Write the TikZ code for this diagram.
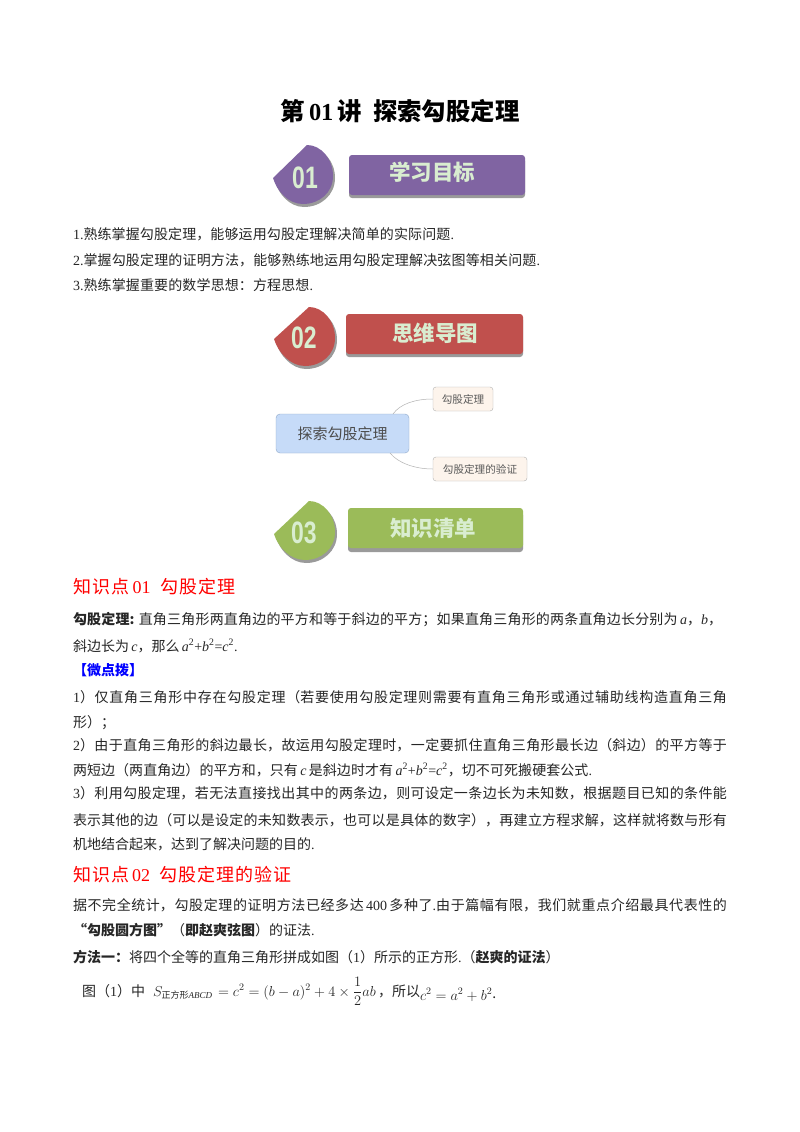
\documentclass[tikz,border=0pt]{standalone}
\usepackage{fontspec}
\setmainfont{Noto Sans CJK SC}
\newfontfamily\en{Liberation Serif}
\newfontfamily\ens{Liberation Sans}
\XeTeXlinebreaklocale "zh"
\XeTeXlinebreakskip=0pt plus 4pt
\newcommand{\E}[1]{{\en #1}}
\newcommand{\I}[1]{{\en\itshape #1}}
\newcommand{\Sq}{\textsuperscript{\en 2}}
\newcommand{\fs}[1]{\fontsize{#1}{#1}\selectfont}
\newcommand{\jl}[2]{\parbox[b]{#1pt}{\tolerance=10000\hbadness=10000\hfuzz=2pt\parindent=0pt\parfillskip=0pt #2}}
\newcommand{\digits}[1]{\scalebox{0.74}[1]{\ens\bfseries\fs{31}#1}}
\definecolor{txt}{HTML}{262626}
\definecolor{pur}{HTML}{8064A2}
\definecolor{redb}{HTML}{C0504D}
\definecolor{grn}{HTML}{9BBB59}
\definecolor{pale}{HTML}{D9EDD0}
\definecolor{shad}{HTML}{9A9A9A}
\definecolor{cfill}{HTML}{C6DBF8}
\definecolor{cdraw}{HTML}{8FA8C8}
\definecolor{lfill}{HTML}{FDF4EC}
\tikzset{
 x=1pt,y=-1pt,
 body/.style={anchor=base west,inner sep=0pt,outer sep=0pt,text=txt,font=\fs{14}},
 head/.style={anchor=base west,inner sep=0pt,outer sep=0pt,text=red,font=\fs{18}},
 bartxt/.style={inner sep=0pt,text=pale,font=\fs{21.5}\bfseries},
 numtxt/.style={inner sep=0pt,text=pale},
 central/.style={draw=cdraw,fill=cfill,rounded corners=4pt,inner sep=0pt,minimum width=133pt,minimum height=39pt,font=\fs{15},text=black!70},
 leaf/.style={draw=black!30,fill=lfill,rounded corners=3pt,inner sep=0pt,minimum height=24pt,font=\fs{10.6},text=black!65},
 conn/.style={draw=black!30,line width=0.5pt},
}
\newcommand{\badge}[5]{%
 \fill[shad] (#1+2,#2+3) -- (#3+2,#4+3) .. controls (#3+16,#4+3) and (#3+28,#4+16) .. (#3+28,#4+33) .. controls (#3+28,#4+50) and (#3+14,#4+62) .. (#3-3,#4+62) .. controls (#3-18,#4+62) and (#1+5,#2+15) .. (#1+2,#2+3) -- cycle;
 \fill[#5] (#1,#2) -- (#3,#4) .. controls (#3+14,#4) and (#3+26,#4+14) .. (#3+26,#4+31) .. controls (#3+26,#4+48) and (#3+12,#4+59) .. (#3-4,#4+59) .. controls (#3-19,#4+59) and (#1+4,#2+13) .. (#1,#2) -- cycle;
}
\begin{document}
\begin{tikzpicture}
\useasboundingbox (0,0) rectangle (800,1132);
\fill[white] (0,0) rectangle (800,1132);

\node[inner sep=0pt,font=\fs{24.4}\bfseries,text=black] (title) at (400,111) {第\,\E{01}\,讲\ \ 探索勾股定理};

% banner 01
\badge{273}{178}{307}{145}{pur}
\node[numtxt] (n1) at (305,178) {\digits{01}};
\fill[shad,rounded corners=3pt] (349,158) rectangle (525,198);
\fill[pur,rounded corners=3pt] (349,155) rectangle (525,195);
\node[bartxt] (b1) at (432,172) {学习目标};

\node[body] (l1) at (73,239) {\jl{381}{\E{1.}熟练掌握勾股定理，能够运用勾股定理解决简单的实际问题\E{.}}};
\node[body] (l2) at (73,265) {\jl{467}{\E{2.}掌握勾股定理的证明方法，能够熟练地运用勾股定理解决弦图等相关问题\E{.}}};
\node[body] (l3) at (73,290) {\jl{240}{\E{3.}熟练掌握重要的数学思想：方程思想\E{.}}};

% banner 02
\badge{274}{339}{309}{307}{redb}
\node[numtxt] (n2) at (304,338) {\digits{02}};
\fill[shad,rounded corners=3pt] (346,317) rectangle (523,357);
\fill[redb,rounded corners=3pt] (346,314) rectangle (523,354);
\node[bartxt] (b2) at (435,333) {思维导图};

% mind map
\node[central] (mm) at (342.5,433.5) {探索勾股定理};
\node[leaf,minimum width=60pt] (m1) at (463,399) {勾股定理};
\node[leaf,minimum width=94pt] (m2) at (480,469) {勾股定理的验证};
\coordinate (c1) at (393,414);
\coordinate (c2) at (390,453);
\draw[conn] (c1) .. controls (400,404) and (415,399) .. (m1.west);
\draw[conn] (c2) .. controls (398,463) and (415,469) .. (m2.west);

% banner 03
\badge{274}{534}{309}{501}{grn}
\node[numtxt] (n3) at (304,533) {\digits{03}};
\fill[shad,rounded corners=3pt] (348,512) rectangle (523,552);
\fill[grn,rounded corners=3pt] (348,508) rectangle (523,548);
\node[bartxt] (b3) at (433,528) {知识清单};

\node[head] (h1) at (73,593) {\jl{163}{知识点\,\E{01}\ \ 勾股定理}};
\node[body] (p1) at (73,624) {\jl{649}{\textbf{勾股定理:} 直角三角形两直角边的平方和等于斜边的平方；如果直角三角形的两条直角边长分别为\,\I{a}，\I{b}，}};
\node[body] (p2) at (73,651) {斜边长为\,\I{c}，那么\,\I{a}\Sq\E{+}\I{b}\Sq\E{=}\I{c}\Sq\E{.}};
\node[body,text=blue] (p3) at (73,675) {\textbf{【微点拨】}};
\node[body] (p4) at (73,702) {\jl{654}{\E{1}）仅直角三角形中存在勾股定理（若要使用勾股定理则需要有直角三角形或通过辅助线构造直角三角}};
\node[body] (p5) at (73,727) {形）；};
\node[body] (p6) at (73,750) {\jl{654}{\E{2}）由于直角三角形的斜边最长，故运用勾股定理时，一定要抓住直角三角形最长边（斜边）的平方等于}};
\node[body] (p7) at (73,775) {\jl{519}{两短边（两直角边）的平方和，只有\,\I{c}\,是斜边时才有\,\I{a}\Sq\E{+}\I{b}\Sq\E{=}\I{c}\Sq，切不可死搬硬套公式\E{.}}};
\node[body] (p8) at (73,798) {\jl{654}{\E{3}）利用勾股定理，若无法直接找出其中的两条边，则可设定一条边长为未知数，根据题目已知的条件能}};
\node[body] (p9) at (73,825) {\jl{654}{表示其他的边（可以是设定的未知数表示，也可以是具体的数字），再建立方程求解，这样就将数与形有}};
\node[body] (p10) at (73,849) {机地结合起来，达到了解决问题的目的\E{.}};

\node[head] (h2) at (73,881) {\jl{219}{知识点\,\E{02}\ \ 勾股定理的验证}};
\node[body] (q1) at (73,910) {\jl{654}{据不完全统计，勾股定理的证明方法已经多达\,\E{400}\,多种了\E{.}由于篇幅有限，我们就重点介绍最具代表性的}};
\node[body] (q2) at (73,935) {\textbf{“勾股圆方图”}（\textbf{即赵爽弦图}）的证法\E{.}};
\node[body] (q3) at (73,962) {\textbf{方法一：}将四个全等的直角三角形拼成如图（\E{1}）所示的正方形\E{.}（\textbf{赵爽的证法}）};
\node[body] (q4) at (82,996) {图（\E{1}）中};
\node[body] (q5) at (153,996) {$S_{\mbox{\fs{9}正方形\I{ABCD}}}$};
\node[body] (q6) at (218,996) {$=c^2=(b-a)^2+4\times\displaystyle\frac{1}{2}ab$};
\node[body] (q7) at (378,996) {，所以};
\node[body] (q8) at (420,1000) {$c^2=a^2+b^2$\raisebox{2pt}{.}};
\end{tikzpicture}
\end{document}
